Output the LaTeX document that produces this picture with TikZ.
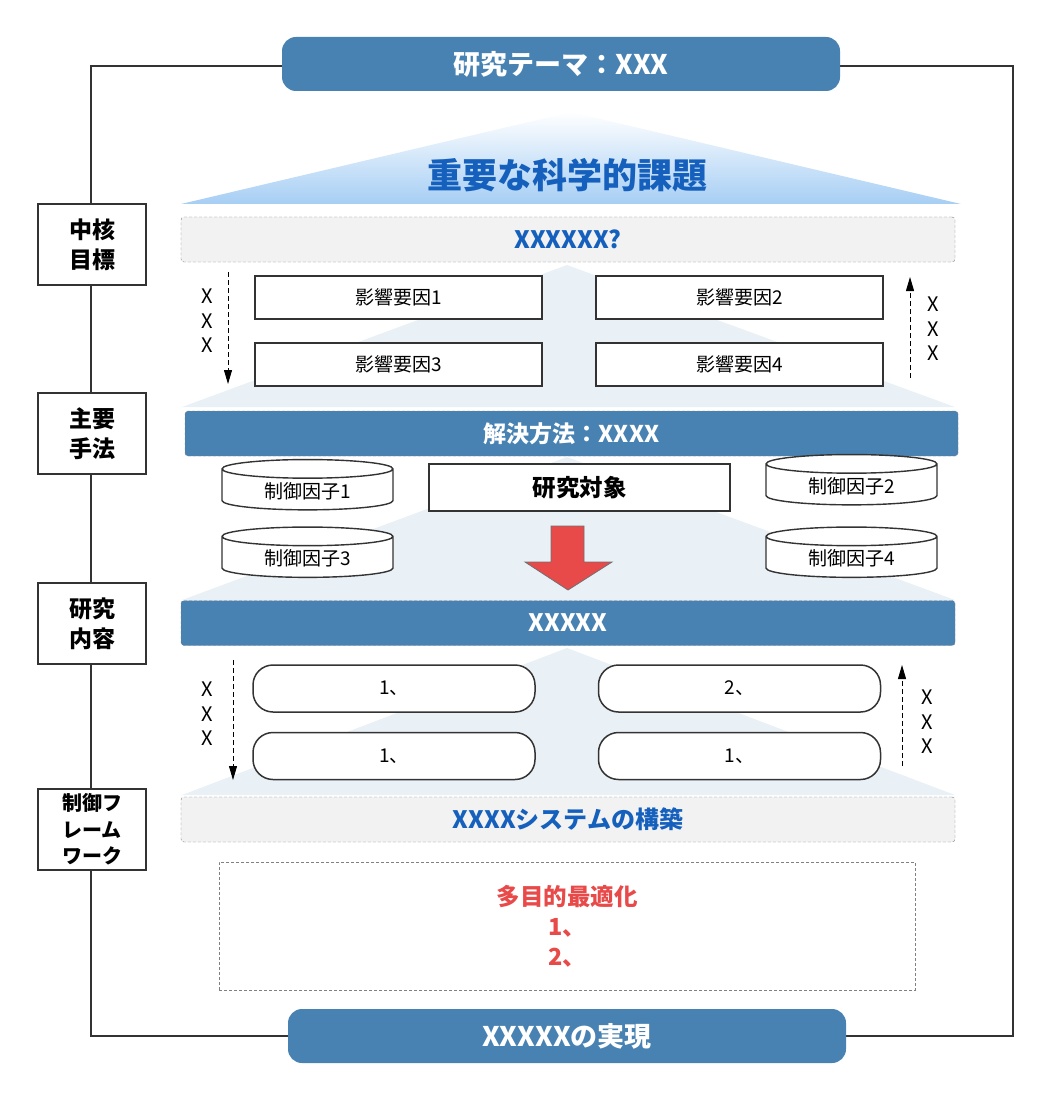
\documentclass[tikz,border=0pt]{standalone}
\usepackage{fontspec}
\setmainfont{Noto Sans CJK JP}
\usetikzlibrary{arrows.meta,shapes.geometric}
\definecolor{bandblue}{RGB}{72,130,178}
\definecolor{titleblue}{RGB}{21,96,189}
\definecolor{skyblue}{RGB}{166,206,244}
\definecolor{paleblue}{RGB}{233,241,246}
\definecolor{panelgray}{RGB}{242,242,242}
\definecolor{alertred}{RGB}{232,74,74}
\definecolor{edgegray}{RGB}{51,51,51}

\begin{document}
\begin{tikzpicture}[x=1pt, y=-1pt,
    pill/.style={rectangle, rounded corners=14pt, fill=bandblue, text=white,
                 minimum width=558pt, minimum height=54pt, font=\fontsize{27}{30}\selectfont\bfseries},
    band/.style={rectangle, rounded corners=3pt, draw=gray, densely dashed, fill=bandblue, text=white,
                 minimum width=774pt, minimum height=45pt, font=\fontsize{24}{26}\selectfont\bfseries},
    panel/.style={band, fill=panelgray, text=titleblue},
    tag/.style={rectangle, draw=edgegray, line width=1.5pt, fill=white, align=center,
                minimum width=108pt, minimum height=81pt, font=\fontsize{23}{30}\selectfont\bfseries},
    factor/.style={rectangle, draw=edgegray, line width=1.5pt, fill=white,
                   minimum width=287pt, minimum height=43pt, font=\fontsize{19}{22}\selectfont},
    drum/.style={cylinder, shape border rotate=90, aspect=0.2, draw=edgegray, line width=1.4pt, fill=white,
                 minimum width=171pt, minimum height=42pt, font=\fontsize{19}{22}\selectfont},
    item/.style={rectangle, rounded corners=20pt, draw=edgegray, line width=1.5pt, fill=white,
                 minimum width=282pt, minimum height=47pt, font=\fontsize{19}{22}\selectfont},
    flow/.style={dash pattern=on 5pt off 3pt, line width=0.9pt, -{Triangle[length=14pt,width=8pt]}},
    xs/.style={align=center, font=\fontsize{20}{24.5}\selectfont}
]
\useasboundingbox (0,0) rectangle (1049,1099);

% frame
\draw[edgegray, line width=1.8pt] (91,66) rectangle (1013,1036);

% pale backdrops
\fill[paleblue] (567,265) -- (955,407) -- (182,407) -- cycle;
\fill[paleblue] (567,457) -- (955,600) -- (182,600) -- cycle;
\fill[paleblue] (567,648) -- (955,795) -- (182,795) -- cycle;

% roof
\shade[top color=white, bottom color=skyblue] (571,112) -- (961,204) -- (181,204) -- cycle;
\node[text=titleblue, font=\fontsize{35}{38}\selectfont\bfseries] (issue) at (567,175) {重要な科学的課題};

\node[pill] (theme) at (561,64) {研究テーマ：XXX};
\node[pill] (goal) at (567,1036) {XXXXXの実現};

% left tags
\node[tag] (core) at (92,244.5) {中核\\目標};
\node[tag] (method) at (92,433.5) {主要\\手法};
\node[tag] (content) at (92,623.5) {研究\\内容};
\node[tag, font=\fontsize{20}{26.5}\selectfont\bfseries] (frame) at (92,829.5) {制御フ\\レーム\\ワーク};

% target
\node[panel] (question) at (568,239.5) {XXXXXX?};
\node[factor] (f1) at (398.5,297.5) {影響要因1};
\node[factor] (f2) at (739.5,297.5) {影響要因2};
\node[factor] (f3) at (398.5,364.5) {影響要因3};
\node[factor] (f4) at (739.5,364.5) {影響要因4};
\coordinate (ldown1) at (228,272);
\coordinate (ldown2) at (228,384);
\coordinate (rup1) at (910,378);
\coordinate (rup2) at (910,277);
\draw[flow] (ldown1) -- (ldown2);
\draw[flow] (rup1) -- (rup2);
\node[xs] (xl1) at (207,321) {X\\X\\X};
\node[xs] (xr1) at (933,329) {X\\X\\X};

% method
\node[band, minimum width=773pt, font=\fontsize{23}{26}\selectfont\bfseries] (solve) at (571.5,433.5) {解決方法：XXXX};
\node[drum] (c1) at (307.5,491) {\raisebox{-5pt}{制御因子1}};
\node[drum] (c2) at (851.5,486) {\raisebox{-5pt}{制御因子2}};
\node[drum] (c3) at (307.5,558.5) {\raisebox{-5pt}{制御因子3}};
\node[drum] (c4) at (851.5,558.5) {\raisebox{-5pt}{制御因子4}};
\node[factor, minimum width=301pt, minimum height=47pt, font=\fontsize{23.5}{26}\selectfont\bfseries] (object) at (579.5,487.5) {研究対象};
\fill[alertred, draw=edgegray!70, line width=0.8pt] (551,526) -- (584,526) -- (584,562) -- (612,562)
    -- (568,590) -- (525,562) -- (551,562) -- cycle;

% content
\node[band] (work) at (568,623) {XXXXX};
\node[item] (w1) at (394,688.5) {1、};
\node[item] (w2) at (739.5,688.5) {2、};
\node[item] (w3) at (394,756) {1、};
\node[item] (w4) at (739.5,756) {1、};
\coordinate (ldown3) at (233,660);
\coordinate (ldown4) at (233,780);
\coordinate (rup3) at (902,766);
\coordinate (rup4) at (902,665);
\draw[flow] (ldown3) -- (ldown4);
\draw[flow] (rup3) -- (rup4);
\node[xs] (xl2) at (207,714) {X\\X\\X};
\node[xs] (xr2) at (927,722) {X\\X\\X};

% framework
\node[panel] (system) at (568,819.5) {XXXXシステムの構築};
\node[rectangle, draw=gray, densely dashed, minimum width=696pt, minimum height=128pt, align=center,
      text=alertred, font=\fontsize{23.5}{30}\selectfont\bfseries] (optim) at (567,926) {多目的最適化\\1、\\2、};
\end{tikzpicture}
\end{document}
